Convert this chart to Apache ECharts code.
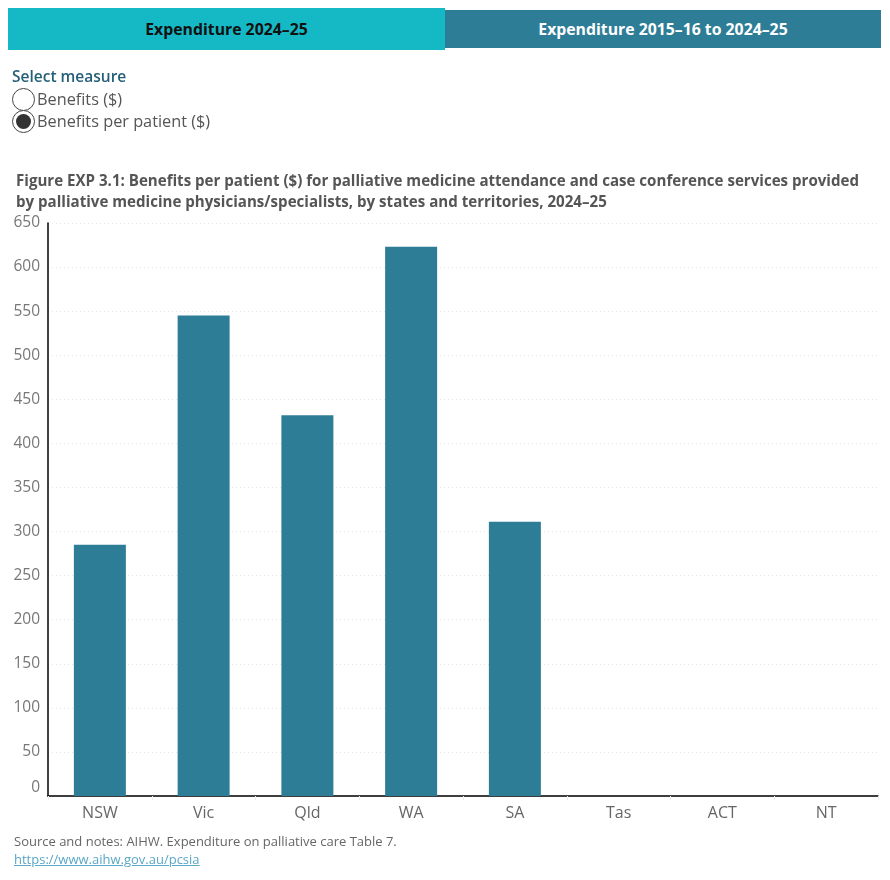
<!DOCTYPE html>
<html>
<head>
<meta charset="utf-8">
<script src="https://cdn.jsdelivr.net/npm/echarts@6/dist/echarts.min.js"></script>
<style>
  body { margin: 0; width: 890px; height: 880px; position: relative; font-family: "Open Sans", sans-serif; background: #fff; overflow: hidden; }
  #tabs { position: absolute; top: 8px; left: 8px; width: 873px; height: 42px; }
  .tab { position: absolute; font-weight: bold; font-size: 15.8px; text-align: center; }
  #tab1 { left: 0; top: 0; width: 437px; height: 42px; line-height: 42px; background: #15b9c5; color: #111; }
  #tab2 { left: 437px; top: 2px; width: 436px; height: 38px; line-height: 38px; background: #2e7d96; color: #fff; }
  #measure { position: absolute; left: 12px; top: 65px; }
  #measure .head { color: #245f78; font-weight: 600; font-size: 15.5px; height: 23px; line-height: 22px; }
  .opt { position: relative; height: 22px; line-height: 22px; color: #555; padding-left: 25px; font-size: 16.3px; }
  .opt .dot { position: absolute; left: 0; top: 0; width: 23px; height: 23px; border: 1px solid #444; border-radius: 50%; box-sizing: border-box; background: #fff; }
  .opt .dot.on::after { content: ""; position: absolute; left: 3px; top: 3px; width: 15px; height: 15px; border-radius: 50%; background: #333; }
  #chart { position: absolute; left: 0; top: 0; width: 890px; height: 880px; }
  #foot { position: absolute; left: 14px; top: 832px; font-size: 13px; color: #666; line-height: 18px; }
  #foot a { color: #5aa7c6; }
</style>
</head>
<body>
<div id="chart"></div>
<div id="tabs">
  <div class="tab" id="tab1">Expenditure 2024–25</div>
  <div class="tab" id="tab2">Expenditure 2015–16 to 2024–25</div>
</div>
<div id="measure">
  <div class="head">Select measure</div>
  <div class="opt"><span class="dot"></span>Benefits ($)</div>
  <div class="opt"><span class="dot on"></span>Benefits per patient ($)</div>
</div>
<div id="foot">
  Source and notes: AIHW. Expenditure on palliative care Table 7.<br>
  <a href="https://www.aihw.gov.au/pcsia">https://www.aihw.gov.au/pcsia</a>
</div>
<script>
// states and territories
const states = ['NSW', 'Vic', 'Qld', 'WA', 'SA', 'Tas', 'ACT', 'NT']
// benefits per patient ($), 2024-25 (no data shown for Tas, ACT, NT)
const benefitsPerPatient = [285, 545, 432, 623, 311, null, null, null]

const myChart = echarts.init(document.getElementById('chart'))
const option = {
  animation: false,
  title: {
    text: 'Figure EXP 3.1: Benefits per patient ($) for palliative medicine attendance and case conference services provided\nby palliative medicine physicians/specialists, by states and territories, 2024–25',
    left: 16,
    top: 171,
    padding: 0,
    textStyle: {
      fontFamily: 'Open Sans',
      fontSize: 15.1,
      fontWeight: 'bold',
      color: '#555',
      lineHeight: 21
    }
  },
  grid: { left: 48, right: 12, top: 223, bottom: 84 },
  xAxis: {
    type: 'category',
    data: states,
    axisLine: { lineStyle: { color: '#000', width: 1.5 } },
    axisTick: { show: true, length: 4, lineStyle: { color: '#ececec' } },
    axisLabel: { color: '#666', fontSize: 16, fontFamily: 'Open Sans', margin: 9 }
  },
  yAxis: {
    type: 'value',
    min: 0,
    max: 650,
    interval: 50,
    axisLine: { show: true, lineStyle: { color: '#000', width: 1.5 } },
    axisTick: { show: false },
    axisLabel: { color: '#777', fontSize: 15.5, fontFamily: 'Open Sans', margin: 8, verticalAlignMinLabel: 'bottom' },
    splitLine: { lineStyle: { color: '#e8e8e8', type: [1, 3] } }
  },
  series: [{
    type: 'bar',
    data: benefitsPerPatient,
    barWidth: 52,
    itemStyle: { color: '#2e7d96' }
  }]
}
myChart.setOption(option)
</script>
</body>
</html>
